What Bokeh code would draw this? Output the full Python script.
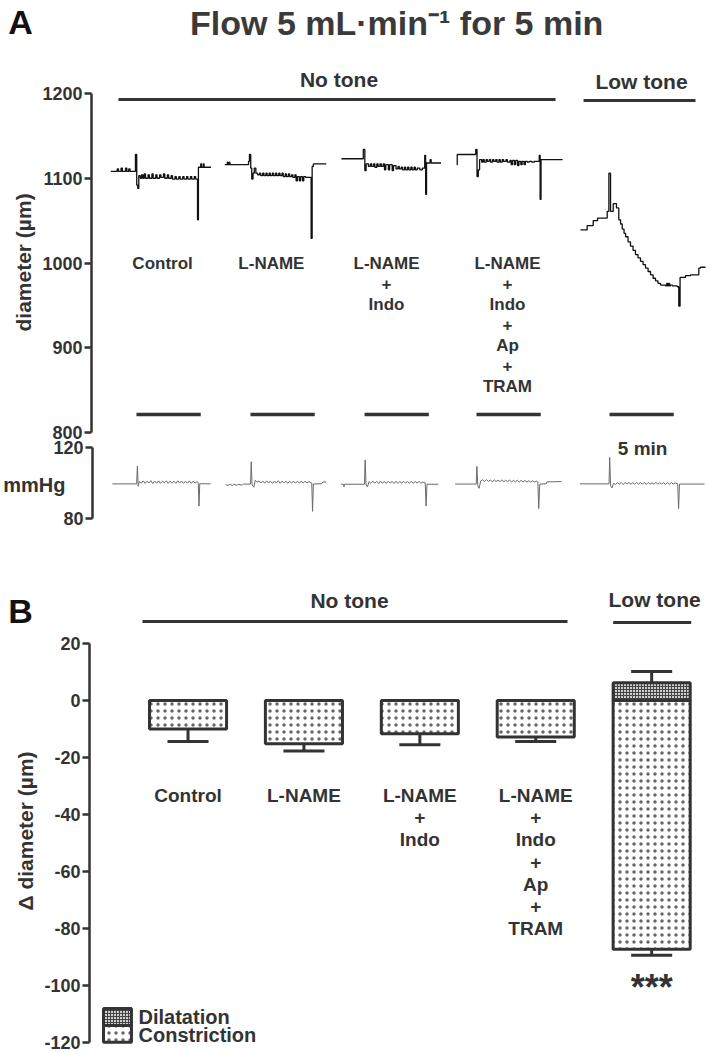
import math
from bokeh.plotting import figure
from bokeh.models import Range1d, FixedTicker, Label, ColumnDataSource, Title
from bokeh.layouts import column
from bokeh.embed import file_html
from bokeh.resources import INLINE
from bokeh.core.properties import value

FONT = "Liberation Sans"
INK = "#333333"

# ======================= DATA =======================
# ---- Panel A: example recordings (time in min relative to flow onset) ----
flow_duration = 5  # min
trace_starts = [3.50, 12.37, 21.25, 29.96, 40.31]   # strip position of each recording (min)

# diameter (um), step recordings
ctrl_diam = [(-2.0, 1108), (-1.5, 1111), (-1.4, 1108), (-1.2, 1112), (-1.1, 1108), (-0.85, 1112),
             (-0.75, 1108), (-0.6, 1111), (-0.5, 1108), (-0.08, 1128), (0.02, 1092), (0.1, 1088),
             (0.18, 1103), (0.3, 1100), (0.4, 1104), (0.5, 1100), (0.6, 1105), (0.7, 1100),
             (0.9, 1104), (1.0, 1100), (1.2, 1105), (1.3, 1100), (1.5, 1104), (1.6, 1100),
             (1.8, 1104), (1.9, 1101), (2.1, 1105), (2.2, 1100), (2.4, 1104), (2.5, 1100),
             (2.7, 1103), (2.8, 1099), (3.0, 1102), (3.1, 1099), (3.3, 1102), (3.4, 1099),
             (3.6, 1102), (3.7, 1099), (3.9, 1102), (4.0, 1099), (4.2, 1102), (4.3, 1099),
             (4.5, 1102), (4.6, 1099), (4.75, 1051), (4.82, 1113), (5.0, 1117), (5.06, 1113),
             (5.2, 1117), (5.26, 1113), (5.8, 1113)]
lname_diam = [(-2.0, 1116), (-1.8, 1119), (-1.75, 1116), (-1.65, 1119), (-1.6, 1116), (-0.15, 1120),
              (-0.08, 1128), (0.02, 1112), (0.1, 1099), (0.2, 1106), (0.3, 1112), (0.42, 1106),
              (0.55, 1104), (0.7, 1106), (0.8, 1103), (0.95, 1106), (1.05, 1103), (1.2, 1106),
              (1.3, 1103), (1.45, 1106), (1.55, 1103), (1.7, 1106), (1.8, 1103), (1.95, 1106),
              (2.05, 1103), (2.2, 1106), (2.3, 1103), (2.45, 1106), (2.55, 1102), (2.7, 1105),
              (2.8, 1102), (2.95, 1105), (3.05, 1102), (3.2, 1104), (3.3, 1101), (3.45, 1104),
              (3.55, 1097), (3.65, 1102), (3.8, 1097), (3.9, 1102), (4.05, 1097), (4.15, 1102),
              (4.3, 1101), (4.5, 1101), (4.72, 1029), (4.8, 1114), (4.9, 1117), (5.9, 1117)]
indo_diam = [(-1.8, 1123), (-0.1, 1134), (0.02, 1109), (0.12, 1117), (0.3, 1114), (0.45, 1117),
             (0.55, 1114), (0.7, 1117), (0.8, 1113), (0.95, 1117), (1.05, 1114), (1.2, 1117),
             (1.3, 1114), (1.45, 1117), (1.55, 1110), (1.65, 1116), (1.85, 1110), (1.95, 1116),
             (2.15, 1109), (2.25, 1115), (2.45, 1111), (2.6, 1114), (2.7, 1111), (2.85, 1113),
             (2.95, 1110), (3.1, 1113), (3.2, 1110), (3.35, 1113), (3.45, 1110), (3.6, 1113),
             (3.7, 1110), (3.85, 1113), (3.95, 1110), (4.1, 1112), (4.3, 1110), (4.5, 1112),
             (4.68, 1127), (4.75, 1081), (4.82, 1118), (5.1, 1122), (5.18, 1118), (5.95, 1118)]
tram_diam = [(-1.55, 1116), (-1.5, 1128), (-0.06, 1134), (0.04, 1102), (0.14, 1110), (0.24, 1122),
             (0.4, 1119), (0.5, 1122), (0.6, 1119), (0.75, 1122), (0.85, 1120), (1.0, 1122),
             (1.1, 1119), (1.25, 1122), (1.35, 1120), (1.5, 1122), (1.6, 1119), (1.75, 1122),
             (1.85, 1119), (2.0, 1122), (2.1, 1120), (2.3, 1122), (2.4, 1119), (2.6, 1121),
             (2.7, 1116), (2.8, 1121), (2.95, 1116), (3.05, 1121), (3.2, 1115), (3.3, 1120),
             (3.45, 1116), (3.55, 1120), (3.7, 1116), (3.8, 1120), (3.95, 1119), (4.1, 1120),
             (4.3, 1119), (4.5, 1120), (4.88, 1127), (4.95, 1075), (5.02, 1122), (6.7, 1122)]
low_diam = [(-2.26, 1039), (-1.74, 1044), (-1.27, 1050), (-0.93, 1053), (-0.44, 1053), (-0.18, 1061),
            (-0.05, 1106), (0.08, 1061), (0.29, 1070), (0.54, 1065), (0.72, 1051), (0.86, 1046),
            (0.99, 1040), (1.13, 1035), (1.25, 1031), (1.44, 1025), (1.63, 1020), (1.83, 1015),
            (2.02, 1010), (2.22, 1006), (2.41, 1002), (2.61, 998), (2.8, 994), (3.0, 990),
            (3.19, 986), (3.39, 982), (3.58, 979), (3.77, 976), (3.97, 974), (4.36, 973),
            (4.45, 976), (4.52, 973), (4.6, 976), (4.67, 973), (4.75, 974), (4.9, 973),
            (5.27, 972), (5.39, 949), (5.49, 983), (5.91, 985), (6.3, 986), (6.69, 986),
            (6.95, 994), (7.08, 995), (7.47, 995)]

# perfusion pressure (mmHg)
ctrl_pres = [(-1.95, 99.5), (-0.06, 99.5), (0.0, 109.5), (0.06, 98.2), (0.14, 100.8), (0.3, 99.9),
             (0.45, 101.2), (0.6, 99.8), (0.75, 101.0), (0.9, 100.0), (1.05, 101.3), (1.2, 99.7),
             (1.35, 101.1), (1.5, 99.9), (1.65, 101.2), (1.8, 99.8), (1.95, 101.0), (2.1, 100.1),
             (2.25, 101.2), (2.4, 99.8), (2.55, 101.1), (2.7, 99.9), (2.85, 101.0), (3.0, 99.8),
             (3.15, 101.2), (3.3, 100.0), (3.45, 101.1), (3.6, 99.8), (3.75, 101.0), (3.9, 99.9),
             (4.05, 101.2), (4.2, 99.8), (4.35, 101.0), (4.5, 100.0), (4.65, 100.8), (4.74, 100.2),
             (4.8, 87.0), (4.86, 99.6), (5.7, 99.5)]
lname_pres = [(-2.0, 99.3), (-1.8, 98.5), (-1.72, 99.3), (-1.45, 98.6), (-1.38, 99.3), (-1.1, 98.7),
              (-1.02, 99.3), (-0.7, 98.8), (-0.62, 99.4), (-0.05, 99.4), (0.0, 112.0), (0.07, 99.0),
              (0.2, 97.6), (0.32, 101.6), (0.45, 100.4), (0.6, 101.2), (0.75, 100.0), (0.9, 101.1),
              (1.05, 99.9), (1.2, 101.2), (1.35, 100.0), (1.5, 101.0), (1.65, 99.8), (1.8, 101.1),
              (1.95, 100.0), (2.1, 101.2), (2.25, 99.9), (2.4, 101.0), (2.55, 100.0), (2.7, 101.1),
              (2.85, 99.8), (3.0, 101.0), (3.15, 100.0), (3.3, 101.1), (3.45, 99.9), (3.6, 101.0),
              (3.75, 100.0), (3.9, 101.1), (4.05, 99.9), (4.2, 101.0), (4.35, 100.0), (4.5, 100.9),
              (4.65, 100.2), (4.72, 100.0), (4.78, 84.0), (4.85, 99.4), (5.5, 99.6), (5.6, 100.6),
              (5.85, 100.6)]
indo_pres = [(-1.87, 99.3), (-1.7, 99.3), (-1.65, 97.8), (-1.6, 99.3), (-0.05, 99.3), (0.0, 113.0),
             (0.07, 99.0), (0.18, 97.8), (0.3, 100.8), (0.45, 99.8), (0.6, 101.0), (0.75, 99.9),
             (0.9, 100.9), (1.05, 99.7), (1.2, 101.0), (1.35, 99.8), (1.5, 100.9), (1.65, 99.8),
             (1.8, 101.0), (1.95, 99.9), (2.1, 100.9), (2.25, 99.7), (2.4, 101.0), (2.55, 99.8),
             (2.7, 100.9), (2.85, 99.8), (3.0, 101.0), (3.15, 99.9), (3.3, 100.9), (3.45, 99.8),
             (3.6, 101.0), (3.75, 99.8), (3.9, 100.9), (4.05, 99.9), (4.2, 101.0), (4.35, 99.8),
             (4.5, 100.6), (4.62, 100.1), (4.68, 100.3), (4.75, 87.0), (4.82, 99.3), (5.7, 99.3)]
tram_pres = [(-1.7, 99.4), (-0.05, 99.4), (0.0, 109.3), (0.07, 98.5), (0.17, 97.0), (0.3, 101.2),
             (0.45, 101.8), (0.6, 100.8), (0.75, 101.9), (0.9, 100.9), (1.05, 101.7), (1.2, 100.6),
             (1.35, 101.8), (1.5, 100.8), (1.65, 101.6), (1.8, 100.7), (1.95, 101.8), (2.1, 100.6),
             (2.25, 101.6), (2.4, 100.7), (2.55, 101.7), (2.7, 100.6), (2.85, 101.5), (3.0, 100.6),
             (3.15, 101.6), (3.3, 100.5), (3.45, 101.5), (3.6, 100.6), (3.75, 101.4), (3.9, 100.5),
             (4.05, 101.3), (4.2, 100.5), (4.35, 101.2), (4.5, 100.6), (4.65, 101.0), (4.75, 100.6),
             (4.82, 85.6), (4.9, 99.4), (5.4, 99.5), (5.45, 100.6), (6.6, 100.8)]
low_pres = [(-2.33, 99.5), (-0.05, 99.5), (0.0, 114.5), (0.07, 98.5), (0.18, 97.2), (0.3, 99.8),
            (0.45, 99.2), (0.6, 100.2), (0.75, 99.3), (0.9, 100.3), (1.05, 99.2), (1.2, 100.2),
            (1.35, 99.4), (1.5, 100.3), (1.65, 99.3), (1.8, 100.2), (1.95, 99.2), (2.1, 100.3),
            (2.25, 99.4), (2.4, 100.2), (2.55, 99.3), (2.7, 100.4), (2.85, 99.2), (3.0, 100.3),
            (3.15, 99.3), (3.3, 100.2), (3.45, 99.2), (3.6, 100.4), (3.75, 99.3), (3.9, 100.2),
            (4.05, 99.4), (4.2, 100.3), (4.35, 99.2), (4.5, 100.2), (4.65, 99.3), (4.8, 100.3),
            (4.95, 99.4), (5.1, 100.0), (5.3, 99.6), (5.37, 85.6), (5.44, 99.4), (7.4, 99.4)]

diam_traces = [ctrl_diam, lname_diam, indo_diam, tram_diam, low_diam]
pres_traces = [ctrl_pres, lname_pres, indo_pres, tram_pres, low_pres]

label_lines = [["Control"], ["L-NAME"], ["L-NAME", "+", "Indo"],
               ["L-NAME", "+", "Indo", "+", "Ap", "+", "TRAM"]]
diam_ticks = [800, 900, 1000, 1100, 1200]
pres_ticks = [80, 120]

# ---- Panel B: mean change in diameter (um) ----
groups = [1, 2, 3, 4, 5]
constriction_mean = [-10.0, -15.2, -11.7, -12.8, -87.3]
constriction_sem = [4.4, 2.5, 3.8, 1.6, 2.1]
dilatation_mean = [0.0, 0.0, 0.0, 0.0, 6.2]
dilatation_sem = [0.0, 0.0, 0.0, 0.0, 4.0]
delta_ticks = [20, 0, -20, -40, -60, -80, -100, -120]

# ======================= HELPERS =======================
W = 709


def style_axis(ax, ticks, bounds):
    ax.ticker = FixedTicker(ticks=ticks)
    ax.bounds = bounds
    ax.axis_line_width = 2.5
    ax.axis_line_color = INK
    ax.major_tick_line_width = 2.5
    ax.major_tick_line_color = INK
    ax.major_tick_out = 7
    ax.major_tick_in = 0
    ax.minor_tick_line_color = None
    ax.major_label_text_font = FONT
    ax.major_label_text_font_size = "18px"
    ax.major_label_text_font_style = "bold"
    ax.major_label_text_color = INK
    ax.major_label_standoff = 2
    ax.major_label_overrides = {t: str(t) for t in ticks}


def side_title(p, text, offset):
    # vertical title on the left, its start placed `offset` px above the frame bottom
    p.add_layout(Title(text=text, align="left", offset=offset, standoff=10,
                       text_font=FONT, text_font_size="21px", text_font_style="bold",
                       text_color=INK), "left")


def lab(p, x, y, text, size, color=INK, angle=0, align="center"):
    p.add_layout(Label(x=x, y=y, text=text, text_font=FONT, text_font_size=f"{size}px",
                       text_font_style="bold", text_color=color, text_align=align,
                       text_baseline="middle", angle=angle))


def base_fig(height, x_range, y_range, left, bottom=0, yaxis=True):
    p = figure(width=W, height=height, x_range=x_range, y_range=y_range,
               output_backend="svg", toolbar_location=None, x_axis_location=None,
               y_axis_location="left" if yaxis else None,
               min_border_left=left, min_border_right=0, min_border_top=0,
               min_border_bottom=bottom)
    if "frame_align" in p.properties():
        p.frame_align = False
    p.grid.visible = False
    p.outline_line_color = None
    p.background_fill_color = "white"
    p.border_fill_color = "white"
    return p

# ======================= PANEL A: header =======================
topA = base_fig(60, Range1d(-7.082, 48.09), Range1d(1238.94, 1309.7), 0, yaxis=False)
lab(topA, -5.53, 1283.8, "A", 34, color="#111111")
lab(topA, 23.75, 1282.6, "Flow 5 mL\u00b7min\u207b\u00b9 for 5 min", 34, color="#3a3a3a")

# ======================= PANEL A: diameter =======================
xA = Range1d(0, 48.09)
pA = base_fig(380, xA, Range1d(790.56, 1238.94), 91)
style_axis(pA.yaxis[0], diam_ticks, (800, 1200))
side_title(pA, "diameter (\u00b5m)", 109)

# group brackets
pA.segment(x0=[2.10, 38.29], x1=[36.11, 47.0], y0=[1192.9, 1191.7], y1=[1192.9, 1191.7],
           line_color=INK, line_width=3)
lab(pA, 19.26, 1216.5, "No tone", 21)
lab(pA, 42.8, 1214.7, "Low tone", 21)

for start, tr in zip(trace_starts, diam_traces):
    pA.step([start + t for t, _ in tr], [v for _, v in tr], mode="after",
            line_color="#111111", line_width=1.3)

# flow period bars
pA.segment(x0=trace_starts, x1=[s + flow_duration for s in trace_starts],
           y0=[821.2] * 5, y1=[821.2] * 5, line_color=INK, line_width=3.5)

row_y_A = [1000, 975.8, 951.6, 927.4, 903.2, 879.0, 854.8]
label_x_A = [5.53, 14.0, 22.96, 32.37]
tx, ty, tt = [], [], []
for x, lines in zip(label_x_A, label_lines):
    for j, s in enumerate(lines):
        tx.append(x); ty.append(row_y_A[j]); tt.append(s)
pA.text(x=tx, y=ty, text=tt, text_font=value(FONT), text_font_size="17px",
        text_font_style="bold", text_color=INK, text_align="center", text_baseline="middle")

# ======================= PANEL A: pressure =======================
pP = base_fig(88, xA, Range1d(74.37, 123.94), 91)
axP = pP.yaxis[0]
style_axis(axP, pres_ticks, (80, 120))
axP.axis_label = "mmHg"
axP.axis_label_text_font = FONT
axP.axis_label_text_font_size = "20px"
axP.axis_label_text_font_style = "bold"
axP.axis_label_text_color = INK
axP.axis_label_standoff = -15
if "axis_label_orientation" in axP.properties():
    axP.axis_label_orientation = "horizontal"
for start, tr in zip(trace_starts, pres_traces):
    pP.line([start + t for t, _ in tr], [v for _, v in tr], line_color="#6a6a6a", line_width=1)
lab(pP, trace_starts[4] + 2.57, 119.44, "5 min", 19)

# ======================= PANEL B: header =======================
topB = base_fig(102, Range1d(-0.618, 5.499), Range1d(24.56, 60.35), 0, yaxis=False)
lab(topB, -0.445, 31.23, "B", 34, color="#111111")
lab(topB, 2.393, 35.09, "No tone", 21)
lab(topB, 5.025, 35.44, "Low tone", 21)
topB.segment(x0=[0.607, 4.668], x1=[4.274, 5.341], y0=[27.72, 27.37], y1=[27.72, 27.37],
             line_color=INK, line_width=3)

# ======================= PANEL B: bars =======================
pB = base_fig(422, Range1d(0.150, 5.499), Range1d(-120.70, 24.56), 89, bottom=8)
style_axis(pB.yaxis[0], delta_ticks, (-120, 20))
side_title(pB, "\u0394 diameter (\u00b5m)", 134)

bw = 0.665
cap = 0.177
srcC = ColumnDataSource(dict(x=groups, bottom=constriction_mean,
                             low=[m - s for m, s in zip(constriction_mean, constriction_sem)],
                             cl=[g - cap for g in groups], cr=[g + cap for g in groups]))
pB.vbar(x="x", top=0, bottom="bottom", width=bw, source=srcC, fill_color="white",
        hatch_pattern=".", hatch_scale=7, hatch_color="#666666", hatch_weight=0.8,
        line_color=INK, line_width=3)
pB.segment(x0="x", x1="x", y0="bottom", y1="low", source=srcC, line_color=INK, line_width=3)
pB.segment(x0="cl", x1="cr", y0="low", y1="low", source=srcC, line_color=INK, line_width=3)

dil_idx = [i for i, m in enumerate(dilatation_mean) if m > 0]
srcD = ColumnDataSource(dict(x=[groups[i] for i in dil_idx],
                             top=[dilatation_mean[i] for i in dil_idx],
                             high=[dilatation_mean[i] + dilatation_sem[i] for i in dil_idx],
                             cl=[groups[i] - cap for i in dil_idx],
                             cr=[groups[i] + cap for i in dil_idx]))
pB.segment(x0="x", x1="x", y0="top", y1="high", source=srcD, line_color=INK, line_width=3)
pB.segment(x0="cl", x1="cr", y0="high", y1="high", source=srcD, line_color=INK, line_width=3)
pB.vbar(x="x", top="top", bottom=0, width=bw, source=srcD, fill_color="#cfcfcf",
        hatch_pattern="+", hatch_scale=3, hatch_color="#444444", hatch_weight=1,
        line_color=INK, line_width=3)

row_y_B = [-33.33, -41.05, -48.77, -56.84, -64.56, -72.28, -80.0]
bx, by, bt = [], [], []
for g, lines in zip(groups, label_lines):
    for j, s in enumerate(lines):
        bx.append(g); by.append(row_y_B[j]); bt.append(s)
pB.text(x=bx, y=by, text=bt, text_font=value(FONT), text_font_size="19px",
        text_font_style="bold", text_color=INK, text_align="center", text_baseline="middle")

lab(pB, 5.0, -100.7, "***", 36)

# legend
pB.quad(left=[0.271], right=[0.512], top=[-108.1], bottom=[-114.0], fill_color="#cfcfcf",
        hatch_pattern="+", hatch_scale=3, hatch_color="#444444", line_color=INK, line_width=3)
pB.quad(left=[0.271], right=[0.512], top=[-114.0], bottom=[-119.9], fill_color="white",
        hatch_pattern=".", hatch_scale=7, hatch_color="#666666", hatch_weight=0.8,
        line_color=INK, line_width=3)
lab(pB, 0.573, -111.1, "Dilatation", 20, align="left")
lab(pB, 0.573, -117.3, "Constriction", 20, align="left")

layout = column(topA, pA, pP, topB, pB)
open("out.html", "w").write(file_html(layout, INLINE))
